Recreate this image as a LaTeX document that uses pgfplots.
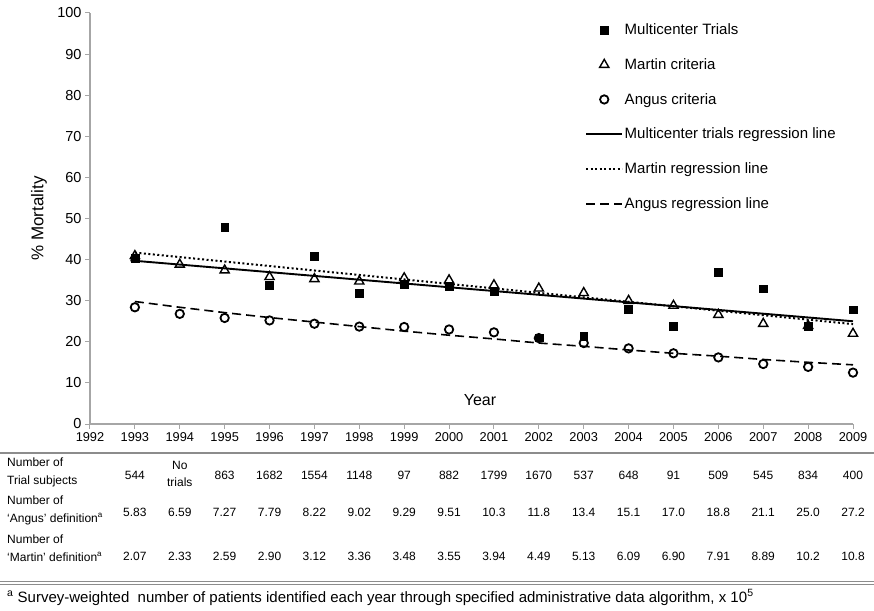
\documentclass[border=0pt]{standalone}
\usepackage{fontspec}
\setmainfont{Liberation Sans}
\usepackage{pgfplots}
\pgfplotsset{compat=1.18}
\definecolor{axgray}{HTML}{A6A6A6}
\definecolor{tabgray}{HTML}{8C8C8C}
\pgfplotsset{
  markleg/.style={legend image code/.code={\draw[mark repeat=2,mark phase=2,##1] plot coordinates {(0pt,0pt)(18pt,0pt)(36pt,0pt)};}},
  lineleg/.style={legend image code/.code={\draw[##1] (0pt,0pt) -- (36pt,0pt);}},
}
\begin{document}
\begin{tikzpicture}
\begin{axis}[
  scale only axis, width=763pt, height=411pt,
  xmin=1992, xmax=2009, ymin=0, ymax=100,
  xtick={1992,1993,...,2009}, ytick={0,10,...,100},
  axis x line*=bottom, axis y line*=left,
  axis line style={draw=axgray, line width=1.2pt},
  tick style={draw=axgray, line width=1pt},
  tick align=outside, major tick length=5pt,
  /pgf/number format/assume math mode=true,
  /pgf/number format/1000 sep={},
  x tick label style={font=\fontsize{12.8}{15}\selectfont, /pgf/number format/1000 sep={}},
  y tick label style={font=\fontsize{14.5}{16}\selectfont},
  ylabel={\% Mortality},
  ylabel style={font=\fontsize{17}{20}\selectfont, at={(axis description cs:-0.067,0.5)}, anchor=center},
  clip=false,
  legend style={at={(0.6488,0.978)}, anchor=north west, draw=none, fill=none,
    font=\fontsize{15}{18}\selectfont, row sep=19.4pt, inner sep=0pt,
    nodes={inner sep=1.5pt}},
  legend cell align=left,
]
% Multicenter trials
\addplot[only marks, mark=square*, mark size=3.9pt, black, markleg]
  coordinates {(1993,40.4)(1995,47.9)(1996,33.7)(1997,40.9)(1998,31.9)(1999,34.0)(2000,33.6)(2001,32.4)(2002,21.0)(2003,21.4)(2004,28.0)(2005,23.8)(2006,37.0)(2007,32.9)(2008,23.8)(2009,27.8)};
\addlegendentry{Multicenter Trials}
% Martin criteria
\addplot[only marks, mark=triangle, mark size=5.3pt, black, mark options={line width=1.4pt, fill=none}, markleg]
  coordinates {(1993,40.9)(1994,38.8)(1995,37.4)(1996,35.8)(1997,35.3)(1998,34.7)(1999,35.5)(2000,35.0)(2001,33.8)(2002,33.0)(2003,31.9)(2004,30.0)(2005,28.8)(2006,26.6)(2007,24.4)(2008,23.9)(2009,22.0)};
\addlegendentry{Martin criteria}
% Angus criteria
\addplot[only marks, mark=o, mark size=4.2pt, black, mark options={line width=1.8pt}, markleg]
  coordinates {(1993,28.4)(1994,26.8)(1995,25.8)(1996,25.2)(1997,24.4)(1998,23.7)(1999,23.6)(2000,23.0)(2001,22.3)(2002,20.9)(2003,19.7)(2004,18.4)(2005,17.2)(2006,16.2)(2007,14.6)(2008,13.9)(2009,12.5)};
\addlegendentry{Angus criteria}
% regression lines
\addplot[black, line width=1.9pt, mark=none, lineleg]
  coordinates {(1992.9,39.8)(2009,25.0)};
\addlegendentry{Multicenter trials regression line}
\addplot[black, line width=2pt, dash pattern=on 2pt off 2.5pt, mark=none, lineleg]
  coordinates {(1993,41.7)(2001,33.0)(2009,24.3)};
\addlegendentry{Martin regression line}
\addplot[black, line width=1.6pt, dash pattern=on 9pt off 5pt, mark=none, lineleg]
  coordinates {(1993,29.8)(1994,28.4)(1995,27.1)(1996,25.9)(1997,24.8)(1998,23.7)(1999,22.6)(2000,21.6)(2001,20.7)(2002,19.7)(2003,18.9)(2004,18.0)(2005,17.2)(2006,16.5)(2007,15.7)(2008,15.0)(2009,14.4)};
\addlegendentry{Angus regression line}
\node[font=\fontsize{16}{18}\selectfont] at (axis cs:2000.69,5.8) {Year};
\end{axis}
% table below the axis
\def\colw{44.882pt}
\tikzset{tab/.style={font=\fontsize{12}{17}\selectfont, inner sep=0pt},
         lab/.style={font=\fontsize{12}{18}\selectfont, inner sep=0pt, anchor=west, align=left}}
\draw[tabgray, line width=2pt] (-90pt,-29pt) -- (784pt,-29pt);
\draw[tabgray, line width=1pt] (-90pt,-157pt) -- (784pt,-157pt);
\draw[tabgray, line width=1pt] (-90pt,-160pt) -- (784pt,-160pt);
\node[lab] at (-83pt,-48pt) {Number of\\Trial subjects};
\node[lab] at (-83pt,-86pt) {Number of\\‘Angus’ definition\textsuperscript{a}};
\node[lab] at (-83pt,-124pt) {Number of\\‘Martin’ definition\textsuperscript{a}};
\foreach \v [count=\i] in {544,,863,1682,1554,1148,97,882,1799,1670,537,648,91,509,545,834,400}
  {\node[tab] at (\i*\colw,-51pt) {\v};}
\node[tab, align=center] at (2*\colw,-49.5pt) {No\\trials};
\foreach \v [count=\i] in {5.83,6.59,7.27,7.79,8.22,9.02,9.29,9.51,10.3,11.8,13.4,15.1,17.0,18.8,21.1,25.0,27.2}
  {\node[tab] at (\i*\colw,-88.7pt) {\v};}
\foreach \v [count=\i] in {2.07,2.33,2.59,2.90,3.12,3.36,3.48,3.55,3.94,4.49,5.13,6.09,6.90,7.91,8.89,10.2,10.8}
  {\node[tab] at (\i*\colw,-132pt) {\v};}
\node[anchor=west, inner sep=0pt, font=\fontsize{15}{17}\selectfont] at (-83pt,-173.5pt)
  {\textsuperscript{a} Survey-weighted\ \ number of patients identified each year through specified administrative data algorithm, x 10\textsuperscript{5}};
\pgfresetboundingbox
\path[use as bounding box] (-90pt,-186pt) rectangle (784pt,424pt);
\end{tikzpicture}
\end{document}
